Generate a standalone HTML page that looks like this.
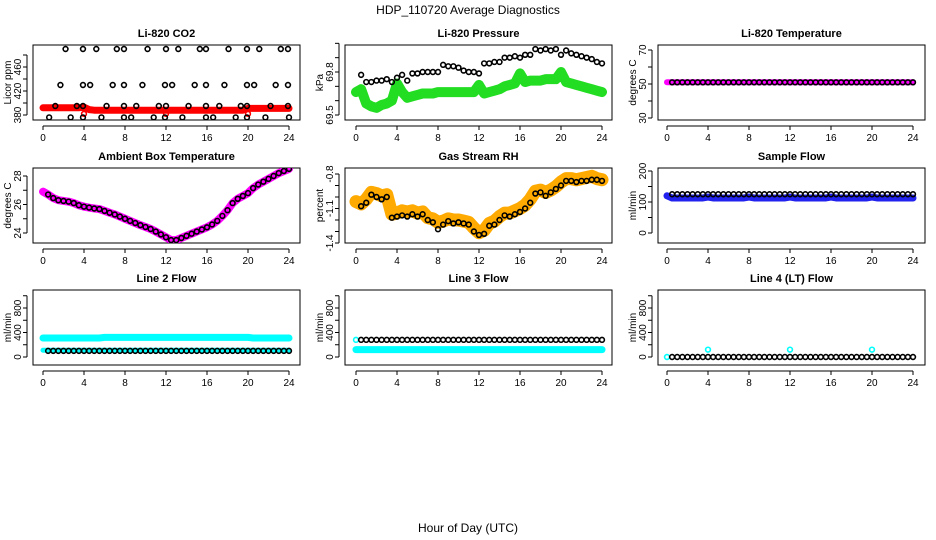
<!DOCTYPE html>
<html><head><meta charset="utf-8"><style>
body{margin:0;background:#fff}
svg{display:block;font-family:"Liberation Sans",sans-serif}
</style></head><body>
<svg id="chart" width="936" height="540" viewBox="0 0 936 540">
<text x="468" y="14" text-anchor="middle" font-size="12">HDP_110720  Average Diagnostics</text>
<text x="468" y="532" text-anchor="middle" font-size="12">Hour of Day (UTC)</text>
</svg>
<script>
// shared x categories (hours)
const halfHours=[0.5,1,1.5,2,2.5,3,3.5,4,4.5,5,5.5,6,6.5,7,7.5,8,8.5,9,9.5,10,10.5,11,11.5,12,12.5,13,13.5,14,14.5,15,15.5,16,16.5,17,17.5,18,18.5,19,19.5,20,20.5,21,21.5,22,22.5,23,23.5,24];
const bandHours=[0,0.5,1,1.5,2,2.5,3,3.5,4,4.5,5,5.5,6,6.5,7,7.5,8,8.5,9,9.5,10,10.5,11,11.5,12,12.5,13,13.5,14,14.5,15,15.5,16,16.5,17,17.5,18,18.5,19,19.5,20,20.5,21,21.5,22,22.5,23,23.5,24];
const xTicks=[0,4,8,12,16,20,24];

// CO2
const co2TopHours=[2.2,3.9,5.2,7.2,7.9,10.2,12,13.2,15.3,15.9,18.1,19.9,21.1,23.2,23.9];
const co2TopVals=[490,490,490,490,490,490,490,490,490,490,490,490,490,490,490];
const co2MidHours=[1.7,3.9,4.6,6.8,7.9,9.7,11.9,12.6,14.8,15.9,17.7,19.9,20.6,22.7,23.9];
const co2MidVals=[430,430,430,430,430,430,430,430,430,430,430,430,430,430,430];
const co2LowHours=[1.2,3.3,3.9,6.2,7.9,9.1,11.3,12,14.2,15.9,17.2,19.3,19.9,22.2,23.9];
const co2LowVals=[395,395,395,395,395,395,395,395,395,395,395,395,395,395,395];
const co2BotHours=[0.6,2.7,3.9,5.7,7.9,8.6,10.8,11.9,13.6,15.9,16.6,18.8,19.9,21.7,24.0];
const co2BotVals=[376,376,376,376,376,376,376,376,376,376,376,376,376,376,376];
const co2Red=[392,392,392,392,392,392,392,392,393,389,388,388,388,388,388,388,388,388,388,388,388,388,388,388,388,388,388,388,388,388,388,388,388,388,388,388,388,388,388,388,391,391,391,391,391,391,391,391,391];
const co2RedDipHours=[4,12,20];
const co2RedDipVals=[382,382,382];

// Pressure
const presBlack=[69.78,69.73,69.73,69.74,69.74,69.75,69.73,69.76,69.78,69.74,69.79,69.79,69.8,69.8,69.8,69.8,69.85,69.84,69.84,69.83,69.81,69.8,69.8,69.79,69.86,69.86,69.87,69.87,69.9,69.9,69.91,69.9,69.92,69.92,69.96,69.95,69.96,69.95,69.96,69.92,69.95,69.93,69.92,69.91,69.9,69.89,69.87,69.86];
const presGreen=[69.66,69.68,69.58,69.56,69.55,69.57,69.58,69.6,69.72,69.66,69.62,69.63,69.64,69.65,69.65,69.65,69.66,69.66,69.66,69.66,69.66,69.66,69.66,69.66,69.71,69.65,69.66,69.67,69.68,69.7,69.71,69.72,69.79,69.73,69.74,69.74,69.74,69.75,69.75,69.75,69.8,69.73,69.72,69.71,69.7,69.69,69.68,69.67,69.66];

// Li-820 temperature
const tempBlack=[51,51,51,51,51,51,51,51,51,51,51,51,51,51,51,51,51,51,51,51,51,51,51,51,51,51,51,51,51,51,51,51,51,51,51,51,51,51,51,51,51,51,51,51,51,51,51,51];
const tempMag=[51,51,51,51,51,51,51,51,51,51,51,51,51,51,51,51,51,51,51,51,51,51,51,51,51,51,51,51,51,51,51,51,51,51,51,51,51,51,51,51,51,51,51,51,51,51,51,51,51];

// Ambient box temperature
const ambBlack=[26.7,26.45,26.3,26.25,26.2,26.1,25.95,25.85,25.78,25.72,25.68,25.55,25.42,25.3,25.15,25.0,24.85,24.7,24.55,24.42,24.28,24.1,23.9,23.7,23.5,23.5,23.65,23.8,23.95,24.1,24.25,24.4,24.6,24.85,25.2,25.6,26.1,26.4,26.6,26.8,27.15,27.4,27.6,27.8,28.0,28.2,28.35,28.5];
const ambMag=[26.9,26.7,26.45,26.3,26.25,26.2,26.1,25.95,25.85,25.78,25.72,25.68,25.55,25.42,25.3,25.15,25.0,24.85,24.7,24.55,24.42,24.28,24.1,23.9,23.7,23.5,23.5,23.65,23.8,23.95,24.1,24.25,24.4,24.6,24.85,25.2,25.6,26.1,26.4,26.6,26.8,27.15,27.4,27.6,27.8,28.0,28.2,28.35,28.5];

// Gas stream RH
const rhBlack=[-1.08,-1.05,-0.98,-1.0,-1.02,-1.0,-1.18,-1.17,-1.16,-1.17,-1.15,-1.17,-1.15,-1.2,-1.22,-1.28,-1.24,-1.21,-1.23,-1.22,-1.23,-1.24,-1.3,-1.33,-1.32,-1.25,-1.24,-1.2,-1.16,-1.17,-1.15,-1.13,-1.1,-1.05,-0.97,-0.96,-0.99,-0.96,-0.93,-0.9,-0.86,-0.86,-0.87,-0.86,-0.86,-0.85,-0.85,-0.86];
const rhBand=[-1.04,-1.06,-1.02,-0.96,-0.97,-0.99,-0.98,-1.15,-1.14,-1.12,-1.13,-1.12,-1.14,-1.13,-1.18,-1.19,-1.22,-1.21,-1.19,-1.2,-1.2,-1.21,-1.22,-1.27,-1.31,-1.29,-1.23,-1.21,-1.17,-1.14,-1.14,-1.12,-1.1,-1.07,-1.02,-0.95,-0.94,-0.96,-0.94,-0.91,-0.87,-0.84,-0.84,-0.85,-0.84,-0.83,-0.82,-0.84,-0.85];

// Sample flow
const sfBlack=[125,125,125,125,125,125,125,125,125,125,125,125,125,125,125,125,125,125,125,125,125,125,125,125,125,125,125,125,125,125,125,125,125,125,125,125,125,125,125,125,125,125,125,125,125,125,125,125];
const sfBlue=[120,113,113,113,113,113,113,113,116,113,113,113,113,113,113,113,116,113,113,113,113,113,113,113,116,113,113,113,113,113,113,113,116,113,113,113,113,113,113,113,116,113,113,113,113,113,113,113,113];

// Line 2 flow
const l2Black=[100,100,100,100,100,100,100,100,100,100,100,100,100,100,100,100,100,100,100,100,100,100,100,100,100,100,100,100,100,100,100,100,100,100,100,100,100,100,100,100,100,100,100,100,100,100,100,100];
const l2Cyan=[310,310,310,310,310,310,310,310,310,310,310,310,320,320,320,320,320,320,320,320,320,320,320,320,320,320,320,320,320,320,320,320,320,320,320,320,320,320,320,320,320,310,310,310,310,310,310,310,310];
const l2CyanLow=[110,110,110,110,110,110,110,110,110,110,110,110,110,110,110,110,110,110,110,110,110,110,110,110,110,110,110,110,110,110,110,110,110,110,110,110,110,110,110,110,110,110,110,110,110,110,110,110,110];

// Line 3 flow
const l3Black=[280,280,280,280,280,280,280,280,280,280,280,280,280,280,280,280,280,280,280,280,280,280,280,280,280,280,280,280,280,280,280,280,280,280,280,280,280,280,280,280,280,280,280,280,280,280,280,280];
const l3Cyan=[120,120,120,120,120,120,120,120,120,120,120,120,120,120,120,120,120,120,120,120,120,120,120,120,120,120,120,120,120,120,120,120,120,120,120,120,120,120,120,120,120,120,120,120,120,120,120,120,120];
const l3CyanStart=[280];

// Line 4 flow
const l4Black=[0,0,0,0,0,0,0,0,0,0,0,0,0,0,0,0,0,0,0,0,0,0,0,0,0,0,0,0,0,0,0,0,0,0,0,0,0,0,0,0,0,0,0,0,0,0,0,0];
const l4CyanHours=[0,4,12,20];
const l4CyanVals=[0,120,120,120];

const NS='http://www.w3.org/2000/svg';
const svg=document.getElementById('chart');
function el(tag,attrs,parent){const e=document.createElementNS(NS,tag);for(const k in attrs)e.setAttribute(k,attrs[k]);(parent||svg).appendChild(e);return e;}

const colX0=[43,356,667], colLeft=[33,345,658], boxW=267, pxH=10.25;
const rowTop=[45,168,290], boxH=75;

function panel(name,col,row,title,ylab,ref,ticks,labels){
  const g=el('g',{});
  
  
  const L=colLeft[col],T=rowTop[row];
  const xs=h=>colX0[col]+h*pxH;
  const ys=v=>ref[1]+(v-ref[0])*(ref[3]-ref[1])/(ref[2]-ref[0]);
  const box=el('rect',{x:L,y:T,width:boxW,height:boxH,fill:'none',stroke:'#000','stroke-width':1},g);
  
  
  const t=el('text',{x:L+boxW/2,y:T-8,'text-anchor':'middle','font-size':11,'font-weight':'bold'},g);
  t.textContent=title;
  
  
  const yl=el('text',{transform:`translate(${L-22},${T+boxH/2}) rotate(-90)`,'text-anchor':'middle','font-size':10},g);
  yl.textContent=ylab;
  
  
  // x axis
  el('line',{x1:xs(0),x2:xs(24),y1:T+boxH+6,y2:T+boxH+6,stroke:'#000'},g);
  xTicks.forEach(h=>{
    el('line',{x1:xs(h),x2:xs(h),y1:T+boxH+6,y2:T+boxH+10,stroke:'#000'},g);
    const tx=el('text',{x:xs(h),y:T+boxH+21,'text-anchor':'middle','font-size':10},g);
    tx.textContent=h;
    
    
  });
  // y axis
  el('line',{x1:L-6,x2:L-6,y1:ys(ticks[0]),y2:ys(ticks[ticks.length-1]),stroke:'#000'},g);
  ticks.forEach(v=>el('line',{x1:L-10,x2:L-6,y1:ys(v),y2:ys(v),stroke:'#000'},g));
  labels.forEach(v=>{
    const ty=el('text',{transform:`translate(${L-12},${ys(v)}) rotate(-90)`,'text-anchor':'middle','font-size':10},g);
    ty.textContent=v;
    
    
  });
  const clip='c'+name;
  const cp=el('clipPath',{id:clip},g);el('rect',{x:L,y:T,width:boxW,height:boxH},cp);
  const d=el('g',{'clip-path':`url(#${clip})`},g);
  return {
    band(hs,vs,color,w,nm){const p=el('polyline',{points:hs.map((h,i)=>xs(h)+','+ys(vs[i])).join(' '),fill:'none',stroke:color,'stroke-width':w,'stroke-linecap':'round','stroke-linejoin':'round'},d);
      
      },
    pts(hs,vs,color,nm,r){hs.forEach((h,i)=>{const c=el('circle',{cx:xs(h),cy:ys(vs[i]),r:r||2.4,fill:'none',stroke:color,'stroke-width':1.6},d);
      
      });}
  };
}

let p;
p=panel('co2',0,0,'Li-820 CO2','Licor ppm',[380,115,460,67],[380,400,420,440,460,480],[380,420,460]);
p.band(bandHours,co2Red,'#ff0000',7,'co2-red-series');
p.pts(co2RedDipHours,co2RedDipVals,'#ff0000','co2-red-point');
p.pts(co2TopHours,co2TopVals,'#000','co2-point');
p.pts(co2MidHours,co2MidVals,'#000','co2-point');
p.pts(co2LowHours,co2LowVals,'#000','co2-point');
p.pts(co2BotHours,co2BotVals,'#000','co2-point');

p=panel('pressure',1,0,'Li-820 Pressure','kPa',[69.5,115,69.8,72],[69.5,69.6,69.7,69.8,69.9,70.0],[69.5,69.8]);
p.band(bandHours,presGreen,'#22dd22',10,'pressure-green-series');
p.pts(halfHours,presBlack,'#000','pressure-point');

p=panel('temp',2,0,'Li-820 Temperature','degrees C',[30,118,70,50],[30,40,50,60,70],[30,50,70]);
p.band(bandHours,tempMag,'#ff00ff',6,'temp-magenta-series');
p.pts(halfHours,tempBlack,'#000','temp-point');

p=panel('ambient',0,1,'Ambient Box Temperature','degrees C',[24,233,28,176],[24,25,26,27,28],[24,26,28]);
p.band(bandHours,ambMag,'#ff00ff',8,'ambient-magenta-series');
p.pts(halfHours,ambBlack,'#000','ambient-point');

p=panel('rh',1,1,'Gas Stream RH','percent',[-0.8,174,-1.4,243],[-0.8,-0.9,-1.0,-1.1,-1.2,-1.3,-1.4],[-0.8,-1.1,-1.4]);
p.band(bandHours,rhBand,'#ffaa00',13,'rh-band-series');
p.pts(halfHours,rhBlack,'#000','rh-point');

p=panel('sampleflow',2,1,'Sample Flow','ml/min',[0,233,200,171],[0,50,100,150,200],[0,100,200]);
p.band(bandHours,sfBlue,'#2222ee',7,'sample-flow-blue-series');
p.pts(halfHours,sfBlack,'#000','sample-flow-point');

p=panel('line2',0,2,'Line 2 Flow','ml/min',[0,357,800,308],[0,200,400,600,800,1000],[0,400,800]);
p.band(bandHours,l2Cyan,'#00ffff',7,'line2-cyan-series');
p.band(bandHours,l2CyanLow,'#00ffff',5,'line2-cyan-low-series');
p.pts(halfHours,l2Black,'#000','line2-point');

p=panel('line3',1,2,'Line 3 Flow','ml/min',[0,357,800,308],[0,200,400,600,800,1000],[0,400,800]);
p.band(bandHours,l3Cyan,'#00ffff',7,'line3-cyan-series');
p.pts([0],l3CyanStart,'#00ffff','line3-cyan-point');
p.pts(halfHours,l3Black,'#000','line3-point');

p=panel('line4',2,2,'Line 4 (LT) Flow','ml/min',[0,357,800,308],[0,200,400,600,800,1000],[0,400,800]);
p.pts(l4CyanHours,l4CyanVals,'#00ffff','line4-cyan-point');
p.pts(halfHours,l4Black,'#000','line4-point');
</script>
</body></html>
